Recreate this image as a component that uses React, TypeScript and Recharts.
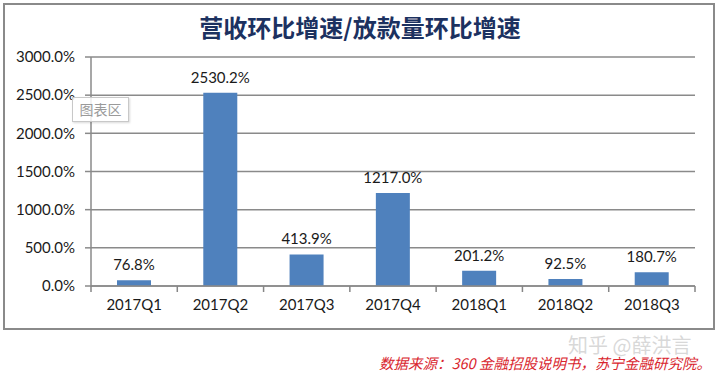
import React from 'react';
import { BarChart, Bar, XAxis, YAxis, CartesianGrid, LabelList } from 'recharts';

const quarters = ['2017Q1', '2017Q2', '2017Q3', '2017Q4', '2018Q1', '2018Q2', '2018Q3'];
const growth = [76.8, 2530.2, 413.9, 1217.0, 201.2, 92.5, 180.7];
const yTicks = [0, 500, 1000, 1500, 2000, 2500, 3000];

const chartTitle = '营收环比增速/放款量环比增速';
const sourceNote = '数据来源：360 金融招股说明书，苏宁金融研究院。';
const watermark = '知乎 @薛洪言';

const data = quarters.map((q, i) => ({ name: q, value: growth[i] }));

const W = 720;
const H = 377;
const PLOT_LEFT = 91;
const PLOT_RIGHT = 695;
const HALF_BAND = (PLOT_RIGHT - PLOT_LEFT) / quarters.length / 2;

const pct = (v: number) => v.toFixed(1) + '%';

const labelFont = 'Lato, "Noto Sans", sans-serif';

// category tick: label in the middle, tick mark on the left edge of the band
const QuarterTick = (props: any) => {
    const { x, y, payload, index } = props;
    const last = index === quarters.length - 1;
    return (
        <g>
            <line x1={x - HALF_BAND} y1={y - 8} x2={x - HALF_BAND} y2={y - 2} stroke="#868686" strokeWidth={1.5} />
            {last && <line x1={x + HALF_BAND} y1={y - 8} x2={x + HALF_BAND} y2={y - 2} stroke="#868686" strokeWidth={1.5} />}
            <text x={x} y={y + 16} textAnchor="middle" fontSize={15} fill="#1a1a1a" fontFamily={labelFont}>
                {payload.value}
            </text>
        </g>
    );
};

const App: React.FC = () => {
    return (
        <div style={{ position: 'absolute', left: 0, top: 0, width: W, height: H, background: '#fff', overflow: 'hidden' }}>
            <div
                style={{
                    position: 'absolute', left: 3, top: 3, width: 708, height: 323,
                    border: '2px solid #8a8a8a', boxSizing: 'content-box',
                }}
            />
            <div
                style={{
                    position: 'absolute', left: 0, top: 12, width: W, textAlign: 'center',
                    fontFamily: '"Noto Sans CJK SC", sans-serif', fontWeight: 700, fontSize: 24,
                    color: '#1c3160', lineHeight: '30px',
                }}
            >
                {chartTitle}
            </div>
            <div style={{ position: 'absolute', left: 0, top: 0 }}>
                <BarChart width={W} height={H} data={data} margin={{ top: 57, right: W - PLOT_RIGHT, bottom: 61, left: 0 }}>
                    <CartesianGrid vertical={false} stroke="#8a8a8a" strokeWidth={1.5} />
                    <XAxis
                        dataKey="name"
                        height={30}
                        tickLine={false}
                        axisLine={{ stroke: '#8a8a8a', strokeWidth: 1.5 }}
                        tick={<QuarterTick />}
                        interval={0}
                    />
                    <YAxis
                        width={PLOT_LEFT}
                        domain={[0, 3000]}
                        ticks={yTicks}
                        tickFormatter={pct}
                        tickSize={6}
                        tickMargin={10}
                        tickLine={{ stroke: '#8a8a8a', strokeWidth: 1.5 }}
                        axisLine={{ stroke: '#8a8a8a', strokeWidth: 1.5 }}
                        tick={{ fontSize: 15, fill: '#1a1a1a', fontFamily: labelFont }}
                        interval={0}
                    />
                    <Bar dataKey="value" fill="#4f81bd" barSize={34} isAnimationActive={false}>
                        <LabelList
                            dataKey="value"
                            position="top"
                            offset={10}
                            formatter={(v: any) => pct(Number(v))}
                            style={{ fontSize: 15, fill: '#1a1a1a', fontFamily: labelFont }}
                        />
                    </Bar>
                </BarChart>
            </div>
            <div
                style={{
                    position: 'absolute', left: 72, top: 97, width: 55, height: 23,
                    border: '1px solid #c8c8c8', background: 'rgba(255,255,255,0.85)',
                    boxShadow: '1px 1px 2px rgba(0,0,0,0.15)', color: '#9a9a9a',
                    fontFamily: '"Noto Sans CJK SC", sans-serif', fontSize: 14,
                    lineHeight: '23px', textAlign: 'center',
                }}
            >
                图表区
            </div>
            <div
                style={{
                    position: 'absolute', left: 568, top: 335, whiteSpace: 'nowrap',
                    fontFamily: '"Noto Sans CJK SC", sans-serif', fontSize: 20,
                    color: 'rgba(190,190,190,0.6)', lineHeight: '20px',
                }}
            >
                {watermark}
            </div>
            <div
                style={{
                    position: 'absolute', left: 379, top: 355, whiteSpace: 'nowrap',
                    fontFamily: '"Noto Sans CJK SC", sans-serif', fontStyle: 'italic',
                    fontSize: 14.5, color: '#d9262e', lineHeight: '16px',
                }}
            >
                {sourceNote}
            </div>
        </div>
    );
};

export default App;
